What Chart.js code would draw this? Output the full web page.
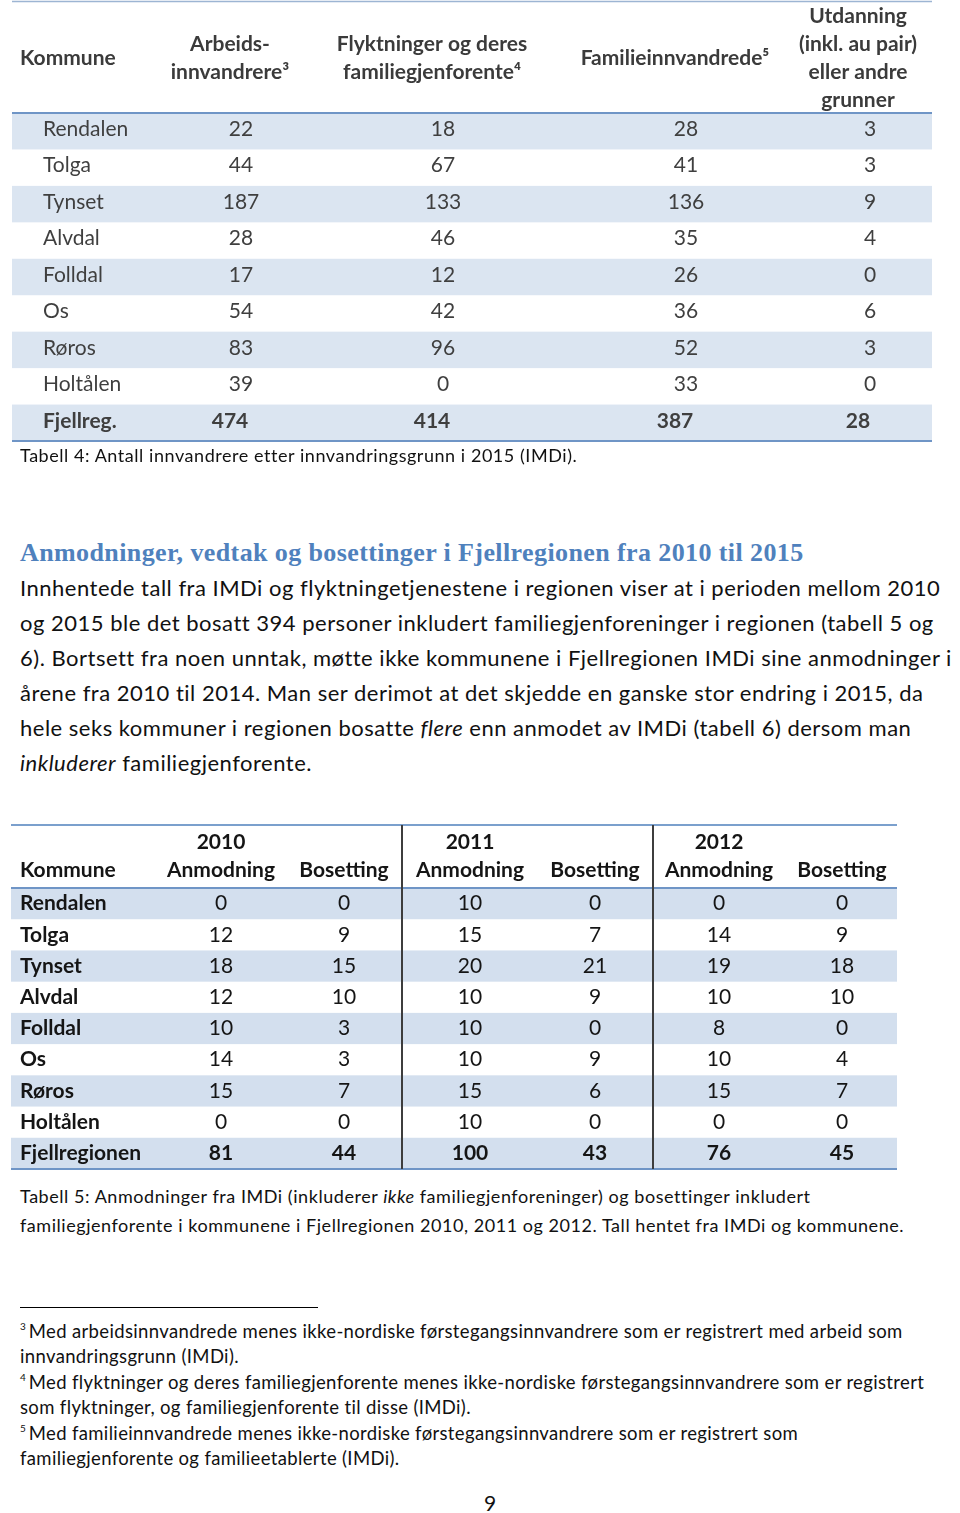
<!DOCTYPE html>
<html lang="no">
<head>
<meta charset="utf-8">
<title>Tabell 4 og 5 – Fjellregionen</title>
<script src="https://cdn.jsdelivr.net/npm/chart.js@4.4.1/dist/chart.umd.min.js"></script>
<style>
  html, body { margin:0; padding:0; background:#fff; }
  body { width:960px; height:1513px; position:relative; overflow:hidden; font-family: Lato, "Open Sans", sans-serif; color:#111; }
  .abs { position:absolute; white-space:nowrap; }
  #tab4 { position:absolute; left:0; top:0; }
  #tab5 { position:absolute; left:0; top:820px; }
  .caption { left:20px; font-size:18px; letter-spacing:0.55px; line-height:29px; }
  .heading { left:20px; top:537px; font-family:"Liberation Serif", "DejaVu Serif", serif; font-weight:bold; font-size:26px; letter-spacing:0.4px; line-height:32px; color:#4f81bd; }
  .para { left:20px; top:570px; font-size:22px; letter-spacing:0.5px; line-height:35px; }
  .rule { position:absolute; left:20px; top:1307px; width:298px; height:1px; background:#000; }
  .fn { left:20px; top:1319px; font-size:18.5px; letter-spacing:0.35px; line-height:25.4px; }
  .fn sup { font-size:10px; vertical-align:8px; line-height:0; margin-right:3px; letter-spacing:0; }
  .pageno { left:484px; top:1488px; font-size:21px; line-height:30px; }
</style>
</head>
<body>

<canvas id="tab4" width="960" height="442"></canvas>
<div class="abs caption" style="top:441px;">Tabell 4: Antall innvandrere etter innvandringsgrunn i 2015 (IMDi).</div>

<div class="abs heading">Anmodninger, vedtak og bosettinger i Fjellregionen fra 2010 til 2015</div>
<div class="abs para">Innhentede tall fra IMDi og flyktningetjenestene i regionen viser at i perioden mellom 2010<br>og 2015 ble det bosatt 394 personer inkludert familiegjenforeninger i regionen (tabell 5 og<br>6). Bortsett fra noen unntak, møtte ikke kommunene i Fjellregionen IMDi sine anmodninger i<br>årene fra 2010 til 2014. Man ser derimot at det skjedde en ganske stor endring i 2015, da<br>hele seks kommuner i regionen bosatte <i>flere</i> enn anmodet av IMDi (tabell 6) dersom man<br><i>inkluderer</i> familiegjenforente.</div>

<canvas id="tab5" width="960" height="352"></canvas>
<div class="abs caption" style="top:1182px;">Tabell 5: Anmodninger fra IMDi (inkluderer <i>ikke</i> familiegjenforeninger) og bosettinger inkludert<br>familiegjenforente i kommunene i Fjellregionen 2010, 2011 og 2012. Tall hentet fra IMDi og kommunene.</div>

<div class="rule"></div>
<div class="abs fn"><sup>3</sup>Med arbeidsinnvandrede menes ikke-nordiske førstegangsinnvandrere som er registrert med arbeid som<br>innvandringsgrunn (IMDi).<br><sup>4</sup>Med flyktninger og deres familiegjenforente menes ikke-nordiske førstegangsinnvandrere som er registrert<br>som flyktninger, og familiegjenforente til disse (IMDi).<br><sup>5</sup>Med familieinnvandrede menes ikke-nordiske førstegangsinnvandrere som er registrert som<br>familiegjenforente og familieetablerte (IMDi).</div>

<div class="abs pageno">9</div>

<script>
// ── Tabell 4: innvandrere etter innvandringsgrunn 2015 ──
const kommuner4 = ['Rendalen', 'Tolga', 'Tynset', 'Alvdal', 'Folldal', 'Os', 'Røros', 'Holtålen', 'Fjellreg.'];
const arbeidsinnvandrere = [22, 44, 187, 28, 17, 54, 83, 39, 474];
const flyktninger = [18, 67, 133, 46, 12, 42, 96, 0, 414];
const familieinnvandrede = [28, 41, 136, 35, 26, 36, 52, 33, 387];
const utdanning = [3, 3, 9, 4, 0, 6, 3, 0, 28];

// ── Tabell 5: anmodninger og bosettinger 2010–2012 ──
const kommuner5 = ['Rendalen', 'Tolga', 'Tynset', 'Alvdal', 'Folldal', 'Os', 'Røros', 'Holtålen', 'Fjellregionen'];
const anmodning2010 = [0, 12, 18, 12, 10, 14, 15, 0, 81];
const bosetting2010 = [0, 9, 15, 10, 3, 3, 7, 0, 44];
const anmodning2011 = [10, 15, 20, 10, 10, 10, 15, 10, 100];
const bosetting2011 = [0, 7, 21, 9, 0, 9, 6, 0, 43];
const anmodning2012 = [0, 14, 19, 10, 8, 10, 15, 0, 76];
const bosetting2012 = [0, 9, 18, 10, 0, 4, 7, 0, 45];

// ── Column layout (x = anchor along the table axis, px) ──
const cols4 = [
    { head: ['Kommune'], values: kommuner4, x: 20, align: 'left', shift: 23, shiftTotal: 23 },
    { head: ['Arbeids-', 'innvandrere³'], values: arbeidsinnvandrere, x: 230, align: 'center', shift: 11, shiftTotal: 0 },
    { head: ['Flyktninger og deres', 'familiegjenforente⁴'], values: flyktninger, x: 432, align: 'center', shift: 11, shiftTotal: 0 },
    { head: ['Familieinnvandrede⁵'], values: familieinnvandrede, x: 675, align: 'center', shift: 11, shiftTotal: 0 },
    { head: ['Utdanning', '(inkl. au pair)', 'eller andre', 'grunner'], values: utdanning, x: 858, align: 'center', shift: 12, shiftTotal: 0 }
];
const cols5 = [
    { head: ['Kommune'], values: kommuner5, x: 20, align: 'left', shift: 0, shiftTotal: 0, bold: true },
    { head: ['2010', 'Anmodning'], values: anmodning2010, x: 221, align: 'center', shift: 0, shiftTotal: 0 },
    { head: ['Bosetting'], values: bosetting2010, x: 344, align: 'center', shift: 0, shiftTotal: 0 },
    { head: ['2011', 'Anmodning'], values: anmodning2011, x: 470, align: 'center', shift: 0, shiftTotal: 0 },
    { head: ['Bosetting'], values: bosetting2011, x: 595, align: 'center', shift: 0, shiftTotal: 0 },
    { head: ['2012', 'Anmodning'], values: anmodning2012, x: 719, align: 'center', shift: 0, shiftTotal: 0 },
    { head: ['Bosetting'], values: bosetting2012, x: 842, align: 'center', shift: 0, shiftTotal: 0 }
];

// ── Table plugin: shading, rules, header and cell text ──
const tableDrawer = {
    id: 'tableDrawer',
    beforeDatasetsDraw(chart, args, o) {
        const { ctx, chartArea } = chart;
        const xs = chart.scales.x, ys = chart.scales.y;
        const n = ys.getLabels().length;
        const h = (chartArea.bottom - chartArea.top) / n;
        const l = xs.getPixelForValue(o.left), r = xs.getPixelForValue(o.right);
        ctx.save();
        ctx.fillStyle = o.shade;
        for (let i = 0; i < n; i += 2) {
            const yc = ys.getPixelForValue(i);
            ctx.fillRect(l, yc - h / 2, r - l, h);
        }
        ctx.restore();
    },
    afterDatasetsDraw(chart, args, o) {
        const { ctx, chartArea } = chart;
        const xs = chart.scales.x, ys = chart.scales.y;
        const n = ys.getLabels().length;
        const l = xs.getPixelForValue(o.left), r = xs.getPixelForValue(o.right);
        ctx.save();
        // horizontal rules
        const hline = (y, w, c) => { ctx.strokeStyle = c; ctx.lineWidth = w; ctx.beginPath(); ctx.moveTo(l, y); ctx.lineTo(r, y); ctx.stroke(); };
        hline(o.topRule, o.topRuleW, o.topRuleColor);
        hline(chartArea.top, 2, o.rule);
        hline(chartArea.bottom, 2, o.rule);
        // vertical group dividers
        (o.dividers || []).forEach(v => {
            const x = xs.getPixelForValue(v);
            ctx.strokeStyle = '#3d3d3d'; ctx.lineWidth = 2;
            ctx.beginPath(); ctx.moveTo(x, o.topRule); ctx.lineTo(x, chartArea.bottom); ctx.stroke();
        });
        // header
        ctx.fillStyle = o.headColor;
        ctx.font = `bold ${o.headSize}px Lato`;
        ctx.textBaseline = 'middle';
        o.cols.forEach(c => {
            ctx.textAlign = c.align;
            const x = xs.getPixelForValue(c.x);
            c.head.forEach((t, k) => {
                let y;
                if (o.headAlign === 'bottom') y = chartArea.top - o.headBottom - (c.head.length - 1 - k) * o.headLine;
                else y = chartArea.top - o.headMid + (k - (c.head.length - 1) / 2) * o.headLine;
                ctx.fillText(t, x, y);
            });
        });
        // cells
        chart.data.datasets.forEach((ds, di) => {
            const meta = chart.getDatasetMeta(di);
            const c = o.cols[di];
            ctx.textAlign = c.align;
            meta.data.forEach((pt, i) => {
                const total = i === n - 1;
                ctx.fillStyle = o.bodyColor;
                ctx.font = `${(total || c.bold) ? 'bold ' : ''}${o.bodySize}px Lato`;
                ctx.fillText(String(c.values[i]), pt.x, pt.y + o.textDy);
            });
        });
        ctx.restore();
    }
};

function buildTable(canvasId, rows, cols, opts, padTop, padBottom) {
    const datasets = cols.map(c => ({
        label: c.head.join(' '),
        data: rows.map((r, i) => ({ x: c.x + (i === rows.length - 1 ? c.shiftTotal : c.shift), y: r })),
        pointRadius: 0,
        showLine: false
    }));
    return new Chart(document.getElementById(canvasId), {
        type: 'scatter',
        data: { datasets },
        options: {
            responsive: false, animation: false, events: [],
            layout: { padding: { top: padTop, bottom: padBottom, left: 0, right: 0 } },
            scales: {
                x: { type: 'linear', min: 0, max: 960, display: false },
                y: { type: 'category', labels: rows, offset: true, display: false }
            },
            plugins: { legend: { display: false }, tooltip: { enabled: false }, tableDrawer: Object.assign({ cols }, opts) }
        },
        plugins: [tableDrawer]
    });
}

buildTable('tab4', kommuner4, cols4, {
    left: 12, right: 932, shade: '#dbe5f1', rule: '#6f95c6',
    topRule: 1.5, topRuleW: 1.5, topRuleColor: '#9db5d3',
    headColor: '#3b3b3b', headSize: 21, headLine: 28, headAlign: 'middle', headMid: 55,
    bodyColor: '#3f3f3f', bodySize: 21, textDy: -2
}, 113, 1);

buildTable('tab5', kommuner5, cols5, {
    left: 11, right: 897, shade: '#d3dfee', rule: '#6f95c6',
    topRule: 5, topRuleW: 2, topRuleColor: '#7ba0cd',
    dividers: [402, 653],
    headColor: '#151515', headSize: 21, headLine: 28, headAlign: 'bottom', headBottom: 18,
    bodyColor: '#151515', bodySize: 21, textDy: 0
}, 68, 3);
</script>
</body>
</html>
